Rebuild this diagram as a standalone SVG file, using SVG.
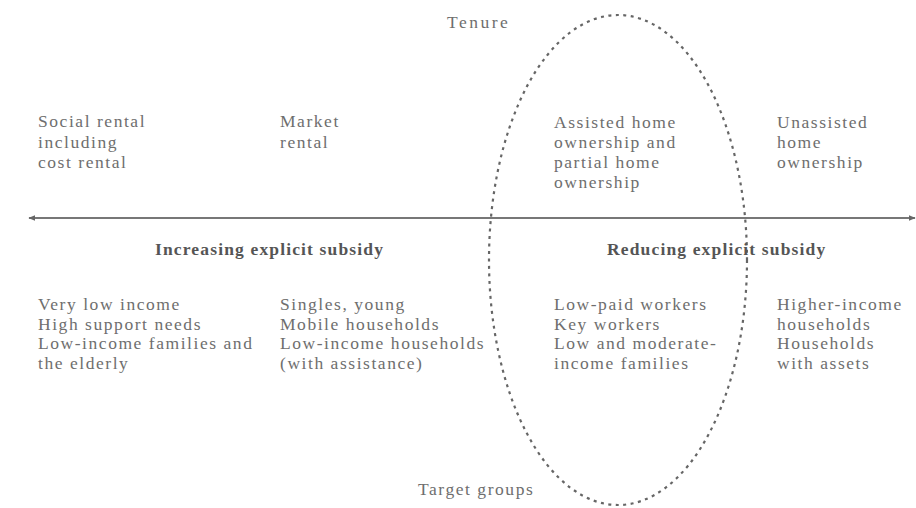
<svg xmlns="http://www.w3.org/2000/svg" width="916" height="508" viewBox="0 0 916 508">
  <style>
    .t { font-family: "Liberation Serif", "Times New Roman", serif; font-size: 17.5px; letter-spacing: 1.55px; fill: #6e6e6e; }
    .h { font-family: "Liberation Serif", "Times New Roman", serif; font-size: 17.5px; letter-spacing: 1.15px; font-weight: bold; fill: #555; }
    .axis { stroke: #777; stroke-width: 2; fill: none; }
    .oval { stroke: #666; stroke-width: 2.2; fill: none; stroke-dasharray: 3 4.5; }
  </style>
  <defs>
    <marker id="head" viewBox="0 0 10 10" refX="9" refY="5" markerWidth="7" markerHeight="7" orient="auto-start-reverse" markerUnits="userSpaceOnUse">
      <path d="M0,1 L10,5 L0,9 Z" fill="#666"/>
    </marker>
  </defs>
  <rect width="916" height="508" fill="#fff"/>

  <g id="connectors">
    <line class="axis" x1="29" y1="218" x2="915" y2="218" marker-start="url(#head)" marker-end="url(#head)"/>
    <ellipse class="oval" cx="618" cy="260" rx="129" ry="245"/>
  </g>

  <g id="tenure-title"><text class="t" x="447" y="28" style="letter-spacing:2.5px">Tenure</text></g>

  <g id="social-rental">
    <text class="t" x="38" y="127">Social rental</text>
    <text class="t" x="38" y="147.5">including</text>
    <text class="t" x="38" y="168">cost rental</text>
  </g>
  <g id="market-rental">
    <text class="t" x="280" y="127">Market</text>
    <text class="t" x="280" y="147.5">rental</text>
  </g>
  <g id="assisted-ownership">
    <text class="t" x="554" y="128">Assisted home</text>
    <text class="t" x="554" y="148">ownership and</text>
    <text class="t" x="554" y="168">partial home</text>
    <text class="t" x="554" y="188">ownership</text>
  </g>
  <g id="unassisted-ownership">
    <text class="t" x="777" y="128">Unassisted</text>
    <text class="t" x="777" y="148">home</text>
    <text class="t" x="777" y="168">ownership</text>
  </g>

  <g id="increasing-subsidy"><text class="h" x="155" y="255">Increasing explicit subsidy</text></g>
  <g id="reducing-subsidy"><text class="h" x="607" y="255">Reducing explicit subsidy</text></g>

  <g id="group-low-income">
    <text class="t" x="38" y="310">Very low income</text>
    <text class="t" x="38" y="329.5">High support needs</text>
    <text class="t" x="38" y="349">Low-income families and</text>
    <text class="t" x="38" y="368.5">the elderly</text>
  </g>
  <g id="group-singles">
    <text class="t" x="280" y="310">Singles, young</text>
    <text class="t" x="280" y="329.5">Mobile households</text>
    <text class="t" x="280" y="349">Low-income households</text>
    <text class="t" x="280" y="368.5">(with assistance)</text>
  </g>
  <g id="group-workers">
    <text class="t" x="554" y="310">Low-paid workers</text>
    <text class="t" x="554" y="329.5">Key workers</text>
    <text class="t" x="554" y="349">Low and moderate-</text>
    <text class="t" x="554" y="368.5">income families</text>
  </g>
  <g id="group-higher-income">
    <text class="t" x="777" y="310">Higher-income</text>
    <text class="t" x="777" y="329.5">households</text>
    <text class="t" x="777" y="349">Households</text>
    <text class="t" x="777" y="368.5">with assets</text>
  </g>

  <g id="target-groups-title"><text class="t" x="418" y="495">Target groups</text></g>
</svg>
